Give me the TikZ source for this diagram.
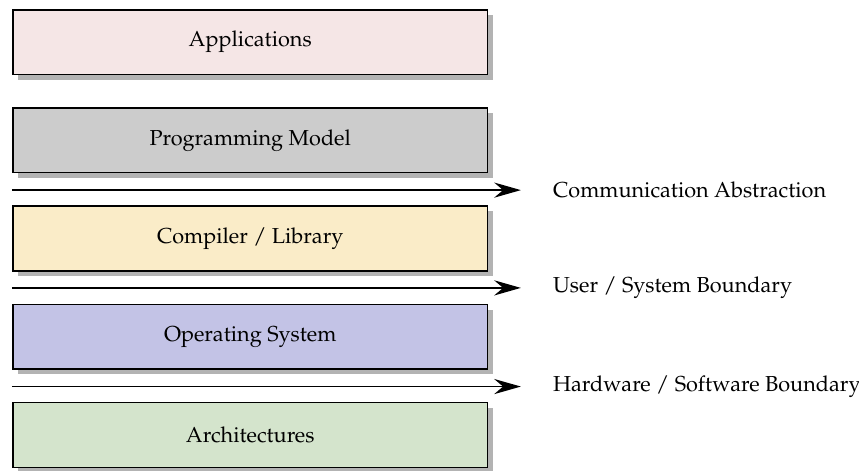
\documentclass[tikz,border=0pt]{standalone}
\usepackage[T1]{fontenc}
\usepackage{mathpazo}
\usetikzlibrary{positioning, arrows.meta, shadows}

\definecolor{appcol}{RGB}{245,230,230}
\definecolor{pmcol}{RGB}{204,204,204}
\definecolor{libcol}{RGB}{250,236,200}
\definecolor{oscol}{RGB}{195,195,230}
\definecolor{archcol}{RGB}{212,228,204}

\begin{document}
\begin{tikzpicture}[
		font=\fontsize{9.75pt}{12pt}\selectfont,
		layer/.style={rectangle, draw, line width=0.7pt, inner sep=0pt, minimum width=213.7pt, minimum height=29.1pt, drop shadow={shadow xshift=2.3pt, shadow yshift=-2.3pt, opacity=0.6}},
		boundary/.style={anchor=west, inner sep=0pt},
		>={Stealth[length=12pt, width=6.8pt, inset=4pt]}
	]

	\useasboundingbox (0pt,0pt) rectangle (386.55pt,-211.95pt);

	\node[layer, fill=appcol, anchor=north west] (app) at (5.4pt,-4.05pt) {Applications};
	\node[layer, fill=pmcol, below=14.4pt of app] (pm) {Programming Model};
	\node[layer, fill=libcol, below=14.4pt of pm] (lib) {Compiler / Library};
	\node[layer, fill=oscol, below=14.4pt of lib] (os) {Operating System};
	\node[layer, fill=archcol, below=14.4pt of os] (arch) {Architectures};

	\coordinate[below=7.5pt of pm.south west] (comms);
	\coordinate[below=7.3pt of lib.south west] (users);
	\coordinate[below=7.5pt of os.south west] (hws);
	\coordinate[right=229pt of comms] (comme);
	\coordinate[right=229pt of users] (usere);
	\coordinate[right=229pt of hws] (hwe);

	\node[boundary, right=14.3pt of comme] (comm) {Communication Abstraction};
	\node[boundary, right=14.3pt of usere] (user) {User / System Boundary};
	\node[boundary, right=14.3pt of hwe] (hw) {Hardware / Software Boundary};

	\foreach \i/\j in {comms/comme, users/usere, hws/hwe}
		\draw[->, line width=0.8pt] (\i) -- (\j);

\end{tikzpicture}
\end{document}
